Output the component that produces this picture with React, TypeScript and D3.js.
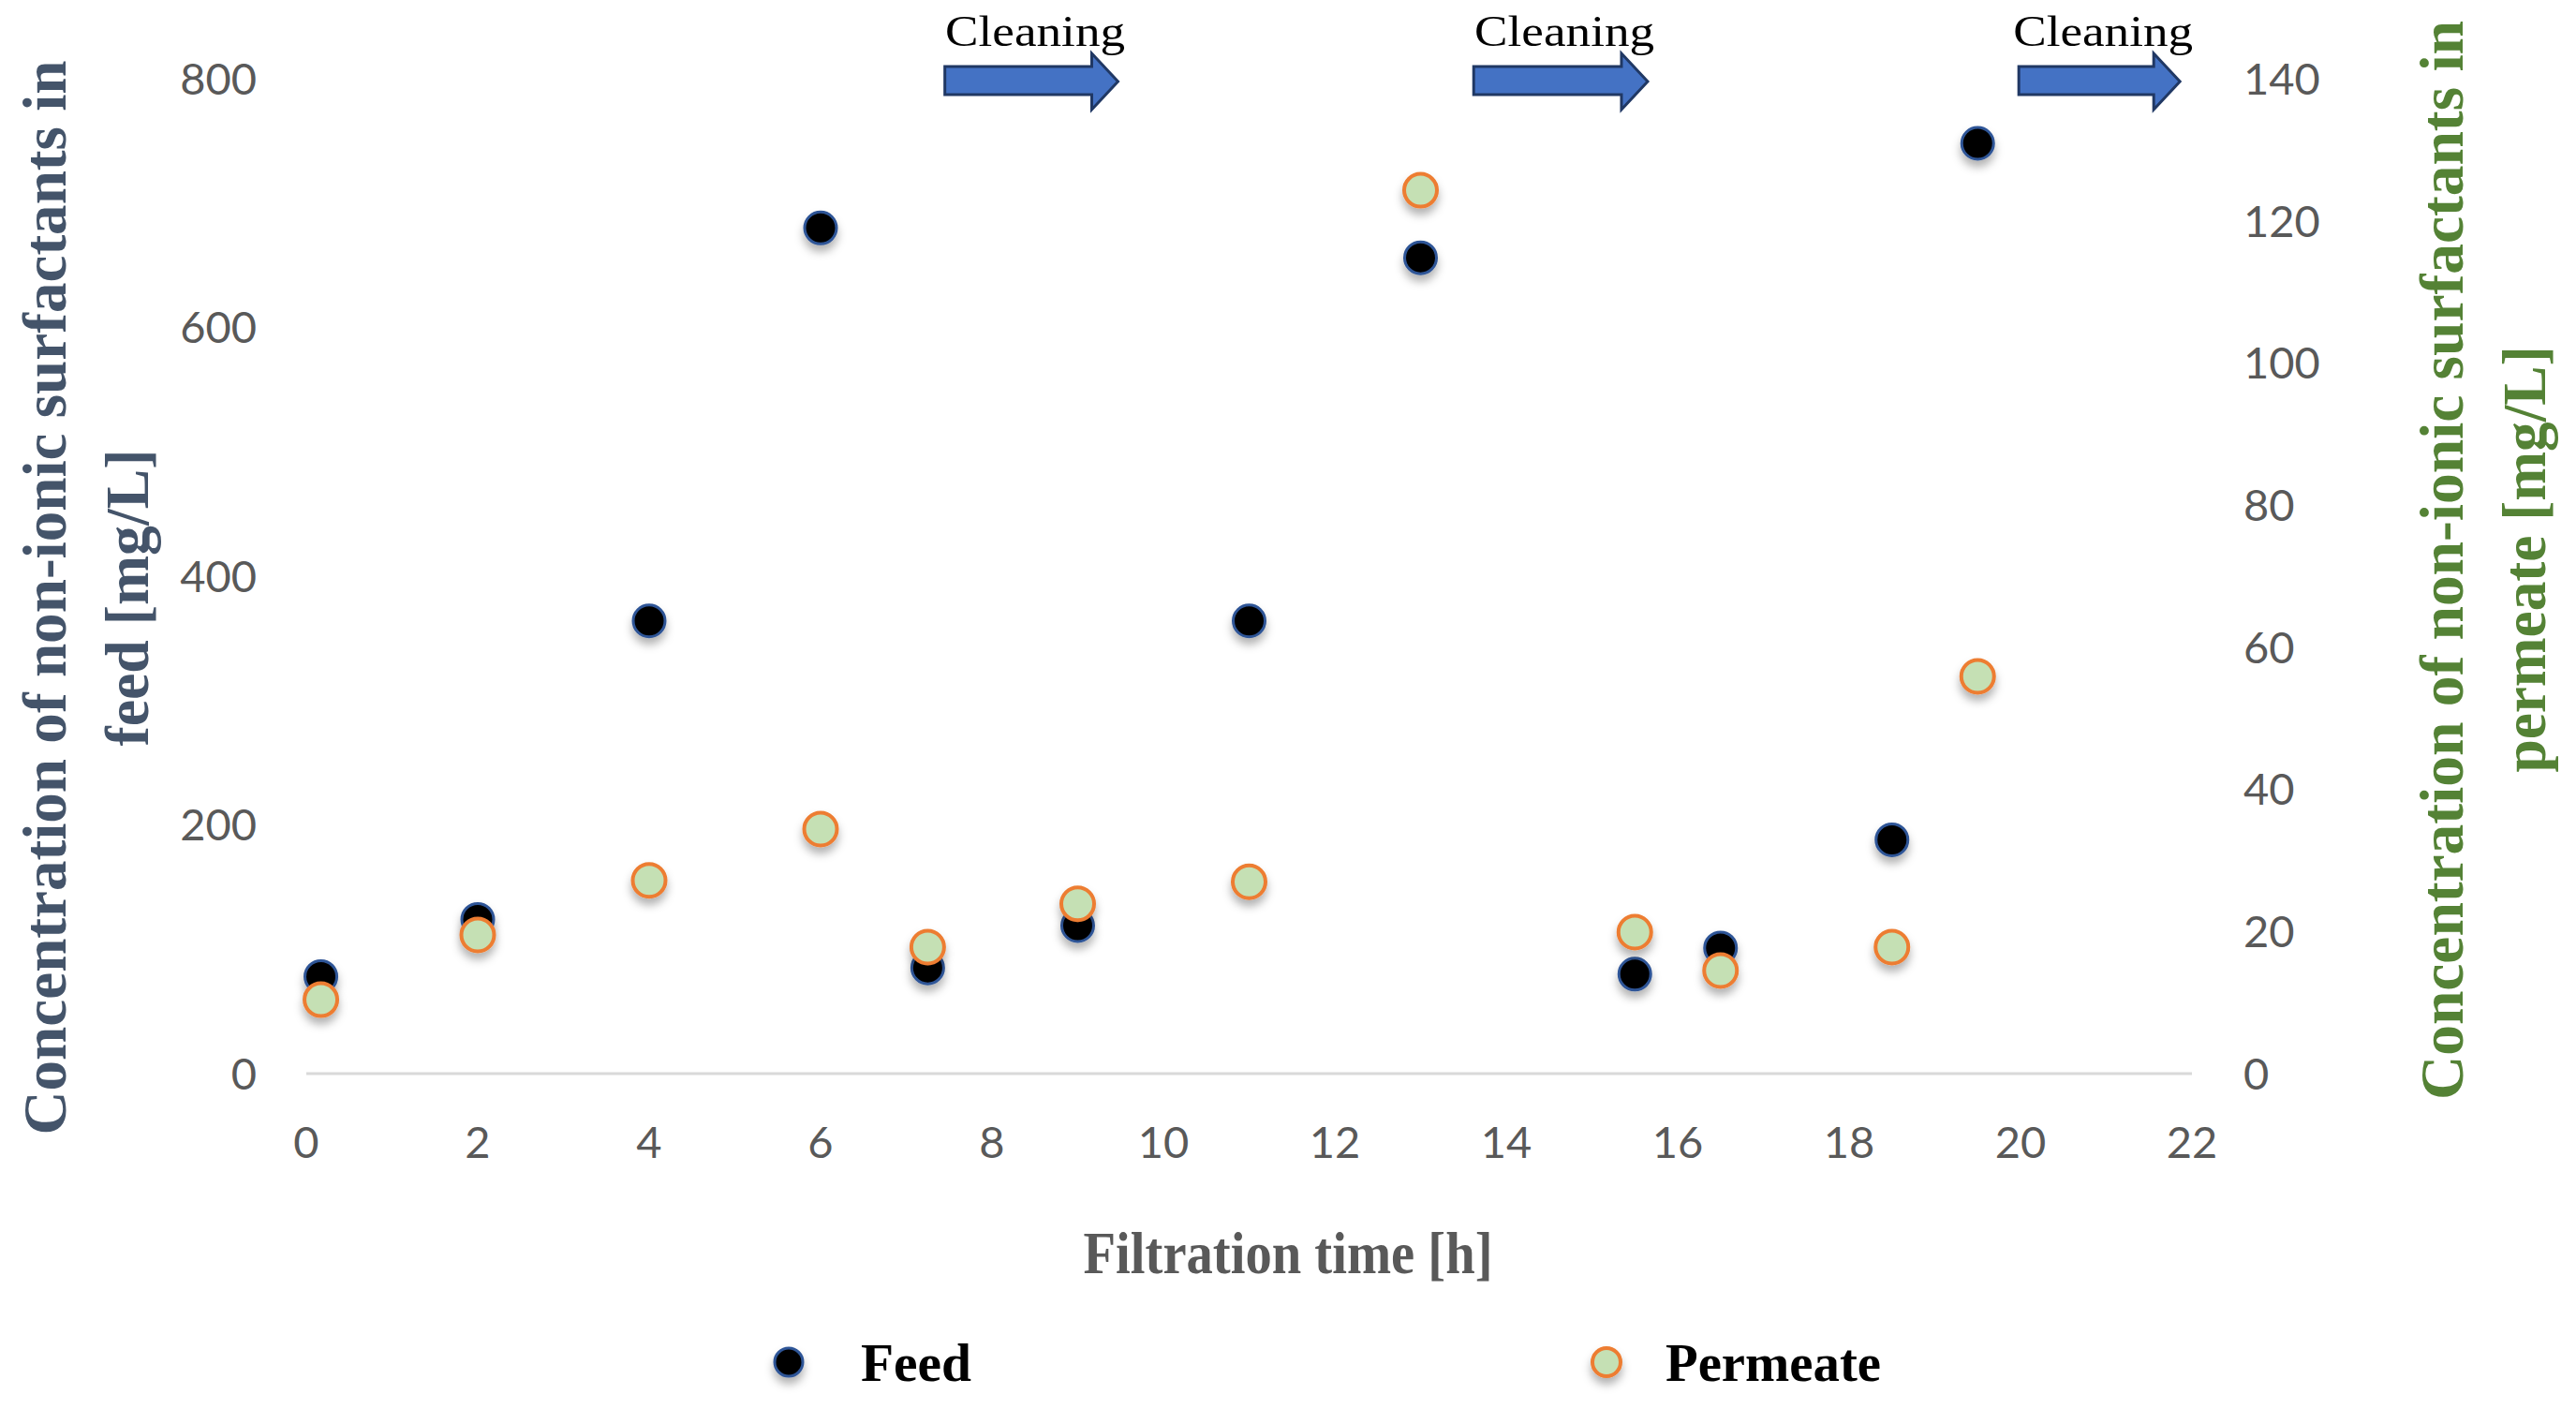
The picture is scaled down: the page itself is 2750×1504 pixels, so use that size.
import React from 'react';
import * as d3 from 'd3';

// filtration time [h]
const times = [0.17, 2, 4, 6, 7.25, 9, 11, 13, 15.5, 16.5, 18.5, 19.5];
// non-ionic surfactants in feed [mg/L] (left axis)
const feed = [78, 124, 364, 680, 85, 119, 364, 656, 80, 101, 188, 748];
// non-ionic surfactants in permeate [mg/L] (right axis)
const permeate = [10.4, 19.5, 27.2, 34.4, 17.8, 23.9, 27.0, 124.3, 19.9, 14.5, 17.8, 55.9];

const xTicks = [0, 2, 4, 6, 8, 10, 12, 14, 16, 18, 20, 22];
const leftTicks = [0, 200, 400, 600, 800];
const rightTicks = [0, 20, 40, 60, 80, 100, 120, 140];

// cleaning intervals marked by arrows
const cleaningStart = [7.45, 13.62, 19.98];
const cleaningEnd = [9.47, 15.65, 21.86];

const W = 2750;
const H = 1504;

const tickFont = 'Lato, "Open Sans", sans-serif';
const serif = '"Liberation Serif", "DejaVu Serif", serif';

export default function App() {
  const x = d3.scaleLinear().domain([0, 22]).range([327, 2340]);
  const yL = d3.scaleLinear().domain([0, 800]).range([1146, 84]);
  const yR = d3.scaleLinear().domain([0, 140]).range([1146, 84]);

  const arrowPath = (x0: number, x1: number) => {
    const headW = 28;
    const path = d3.path();
    path.moveTo(x0, 71);
    path.lineTo(x1 - headW, 71);
    path.lineTo(x1 - headW, 57);
    path.lineTo(x1, 87);
    path.lineTo(x1 - headW, 117);
    path.lineTo(x1 - headW, 101);
    path.lineTo(x0, 101);
    path.closePath();
    return path.toString();
  };

  return (
    <svg
      width={W}
      height={H}
      style={{ position: 'absolute', left: 0, top: 0, background: '#fff' }}
    >
      <defs>
        <filter id="shadow" x="-60%" y="-60%" width="220%" height="240%">
          <feDropShadow dx="0" dy="7" stdDeviation="5" floodColor="#000" floodOpacity="0.3" />
        </filter>
      </defs>

      {/* baseline */}
      <line
        x1={x(0)}
        x2={x(22)}
        y1={yL(0)}
        y2={yL(0)}
        stroke="#d9d9d9"
        strokeWidth={3}
      />

      {/* x tick labels */}
      {xTicks.map((t) => (
        <text
          key={'x' + t}
          x={x(t)}
          y={1236}
          textAnchor="middle"
          fontFamily={tickFont}
          fontSize={47}
          fill="#595959"
        >
          {t}
        </text>
      ))}

      {/* left tick labels */}
      {leftTicks.map((t) => (
        <text
          key={'l' + t}
          x={274}
          y={yL(t)}
          dy="0.36em"
          textAnchor="end"
          fontFamily={tickFont}
          fontSize={47}
          fill="#595959"
        >
          {t}
        </text>
      ))}

      {/* right tick labels */}
      {rightTicks.map((t) => (
        <text
          key={'r' + t}
          x={2395}
          y={yR(t)}
          dy="0.36em"
          textAnchor="start"
          fontFamily={tickFont}
          fontSize={47}
          fill="#595959"
        >
          {t}
        </text>
      ))}

      {/* left axis title */}
      <g fontFamily={serif} fontWeight="bold" fontSize={66} fill="#44546a">
        <text
          transform={`translate(70,638) rotate(-90)`}
          textAnchor="middle"
          textLength={1147}
          lengthAdjust="spacingAndGlyphs"
        >
          Concentration of non-ionic surfactants in
        </text>
        <text
          transform={`translate(158,638) rotate(-90)`}
          textAnchor="middle"
          textLength={317}
          lengthAdjust="spacingAndGlyphs"
        >
          feed [mg/L]
        </text>
      </g>

      {/* right axis title */}
      <g fontFamily={serif} fontWeight="bold" fontSize={66} fill="#548235">
        <text
          transform={`translate(2629,598) rotate(-90)`}
          textAnchor="middle"
          textLength={1152}
          lengthAdjust="spacingAndGlyphs"
        >
          Concentration of non-ionic surfactants in
        </text>
        <text
          transform={`translate(2717,597) rotate(-90)`}
          textAnchor="middle"
          textLength={455}
          lengthAdjust="spacingAndGlyphs"
        >
          permeate [mg/L]
        </text>
      </g>

      {/* x axis title */}
      <text
        x={1375}
        y={1359}
        textAnchor="middle"
        fontFamily={serif}
        fontWeight="bold"
        fontSize={63}
        fill="#595959"
        textLength={437}
        lengthAdjust="spacingAndGlyphs"
      >
        Filtration time [h]
      </text>

      {/* cleaning arrows */}
      {cleaningStart.map((s, i) => {
        const x0 = x(s);
        const x1 = x(cleaningEnd[i]);
        return (
          <g key={'c' + i}>
            <text
              x={(x0 + x1) / 2 + 4}
              y={49}
              textAnchor="middle"
              fontFamily={serif}
              fontSize={47}
              fill="#000"
              textLength={192}
              lengthAdjust="spacingAndGlyphs"
            >
              Cleaning
            </text>
            <path
              d={arrowPath(x0, x1)}
              fill="#4472c4"
              stroke="#203864"
              strokeWidth={3}
              strokeLinejoin="miter"
            />
          </g>
        );
      })}

      {/* feed points */}
      <g filter="url(#shadow)">
        {times.map((t, i) => (
          <circle
            key={'f' + i}
            cx={x(t)}
            cy={yL(feed[i])}
            r={17}
            fill="#000"
            stroke="#2f5597"
            strokeWidth={3}
          />
        ))}
      </g>

      {/* permeate points */}
      <g filter="url(#shadow)">
        {times.map((t, i) => (
          <circle
            key={'p' + i}
            cx={x(t)}
            cy={yR(permeate[i])}
            r={17.5}
            fill="#c5e0b4"
            stroke="#ed7d31"
            strokeWidth={4}
          />
        ))}
      </g>

      {/* legend */}
      <g filter="url(#shadow)">
        <circle cx={842} cy={1454} r={15} fill="#000" stroke="#2f5597" strokeWidth={3} />
        <circle cx={1715} cy={1454} r={15} fill="#c5e0b4" stroke="#ed7d31" strokeWidth={4} />
      </g>
      <text
        x={919}
        y={1474}
        fontFamily={serif}
        fontWeight="bold"
        fontSize={56}
        fill="#000"
        textLength={118}
        lengthAdjust="spacingAndGlyphs"
      >
        Feed
      </text>
      <text
        x={1778}
        y={1474}
        fontFamily={serif}
        fontWeight="bold"
        fontSize={56}
        fill="#000"
        textLength={230}
        lengthAdjust="spacingAndGlyphs"
      >
        Permeate
      </text>
    </svg>
  );
}
